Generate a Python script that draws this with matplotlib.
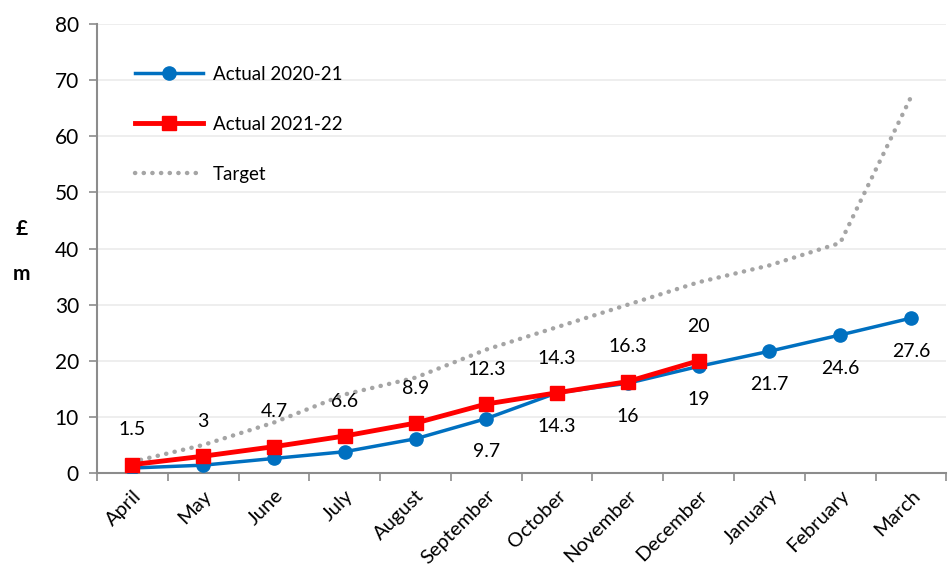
import numpy as np
import matplotlib.pyplot as plt

plt.rcParams['font.family'] = ['Lato', 'DejaVu Sans']

months = ['April', 'May', 'June', 'July', 'August', 'September', 'October',
          'November', 'December', 'January', 'February', 'March']
actual_2021 = [0.9, 1.4, 2.6, 3.8, 6.1, 9.7, 14.3, 16, 19, 21.7, 24.6, 27.6]
actual_2122 = [1.5, 3, 4.7, 6.6, 8.9, 12.3, 14.3, 16.3, 20]
target = [2, 5, 9, 14, 17, 22, 26, 30, 34, 37, 41, 67]
# which 2020-21 points get a value label (below the point)
blue_labels = {5: '9.7', 6: '14.3', 7: '16', 8: '19', 9: '21.7', 10: '24.6', 11: '27.6'}
red_labels = ['1.5', '3', '4.7', '6.6', '8.9', '12.3', '14.3', '16.3', '20']

fig = plt.figure(figsize=(9.48, 5.79), dpi=100)
ax = fig.add_axes([0.1023, 0.183, 0.896, 0.7755])

x = np.arange(len(months))
ax.plot(x, target, color='#A5A5A5', linestyle=(0, (0.05, 1.9)), linewidth=3.2,
        dash_capstyle='round', label='Target', zorder=2)
ax.plot(x, actual_2021, color='#0070C0', linewidth=2.5, marker='o', markersize=9.5,
        label='Actual 2020-21', zorder=3)
ax.plot(x[:len(actual_2122)], actual_2122, color='#FF0000', linewidth=3.5, marker='s',
        markersize=10, label='Actual 2021-22', zorder=4)

for i, t in blue_labels.items():
    ax.annotate(t, (x[i], actual_2021[i]), xytext=(0, -24), textcoords='offset points',
                ha='center', va='center', fontsize=14)
for i, t in enumerate(red_labels):
    ax.annotate(t, (x[i], actual_2122[i]), xytext=(0, 25), textcoords='offset points',
                ha='center', va='center', fontsize=14)

ax.set_xlim(-0.5, 11.5)
ax.set_ylim(0, 80)
ax.set_yticks(range(0, 81, 10))
ax.set_xticks(x)
ax.set_xticklabels(months, rotation=45, ha='right', rotation_mode='anchor', fontsize=14.5)
ax.set_xticks(np.arange(-0.5, 12, 1), minor=True)
ax.tick_params(axis='x', which='major', length=0, pad=10)
ax.tick_params(axis='x', which='minor', length=6, color='#8C8C8C', width=1.2)
ax.tick_params(axis='y', length=6, color='#8C8C8C', width=1.2, labelsize=15, pad=7)
ax.grid(axis='y', color='#EBEBEB', linewidth=1.2)
ax.set_axisbelow(True)
for s in ['top', 'right']:
    ax.spines[s].set_visible(False)
for s in ['left', 'bottom']:
    ax.spines[s].set_color('#8C8C8C')
    ax.spines[s].set_linewidth(1.5)

fig.text(0.023, 0.605, '£', fontsize=15, fontweight='bold', ha='center', va='center')
fig.text(0.023, 0.527, 'm', fontsize=15, fontweight='bold', ha='center', va='center')

h, l = ax.get_legend_handles_labels()
ax.legend([h[1], h[2], h[0]], [l[1], l[2], l[0]], loc='upper left',
          bbox_to_anchor=(0.025, 0.944), frameon=False, fontsize=13.5, labelspacing=1.75,
          handlelength=3.6, handletextpad=0.55)

plt.savefig('out.png', dpi=100)
